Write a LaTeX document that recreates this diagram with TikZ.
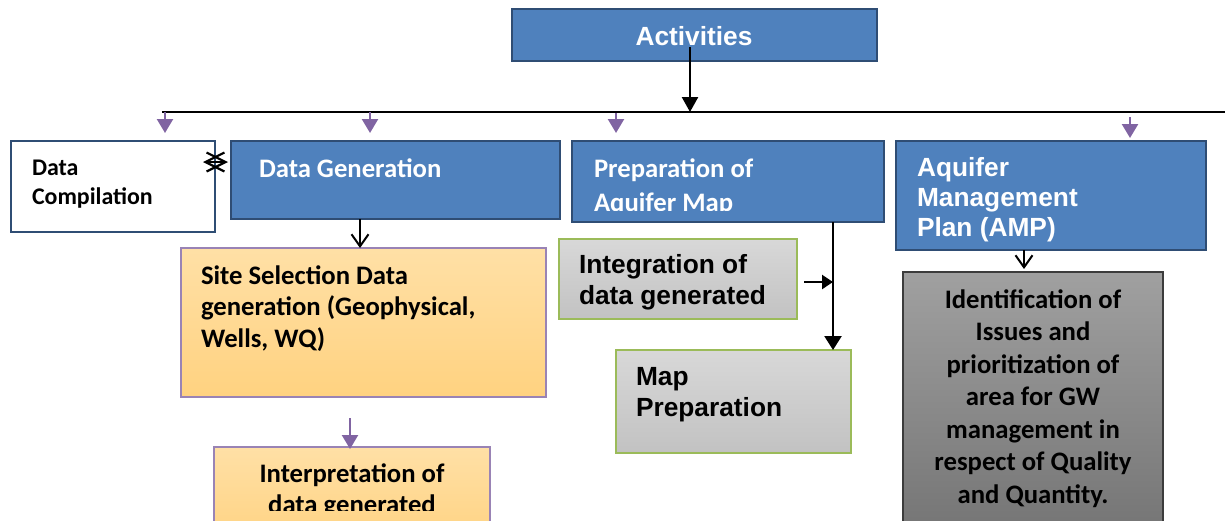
\documentclass[tikz,border=0pt]{standalone}
\usepackage{fontspec}
\setmainfont{Carlito}
\newfontfamily\arl{Liberation Sans}
\usetikzlibrary{arrows.meta}
\definecolor{bfill}{HTML}{4F81BD}
\definecolor{bdraw}{HTML}{2F4D74}
\definecolor{pur}{HTML}{8064A2}
\definecolor{grn}{HTML}{9BBB59}
\newcommand\VL[1]{\vtop{\halign{##\hfil\cr#1\crcr}}}
\newcommand\VC[1]{\vtop{\halign{\hfil##\hfil\cr#1\crcr}}}
\begin{document}
\begin{tikzpicture}[x=1pt,y=-1pt,
  box/.style={rectangle, inner sep=0pt, outer sep=0pt, anchor=north west},
  bluebox/.style={box, fill=bfill, draw=bdraw, line width=2.5pt},
  whitebox/.style={box, fill=white, draw=bdraw, line width=2.5pt},
  orangebox/.style={box, top color={rgb,255:red,255;green,224;blue,166}, bottom color={rgb,255:red,255;green,210;blue,128}, draw=pur!80, line width=1.2pt},
  graybox/.style={box, top color={rgb,255:red,216;green,216;blue,216}, bottom color={rgb,255:red,194;green,194;blue,194}, draw=grn, line width=1.6pt},
  darkbox/.style={box, top color={rgb,255:red,160;green,160;blue,160}, bottom color={rgb,255:red,112;green,112;blue,112}, draw={rgb,255:red,60;green,60;blue,60}, line width=1.2pt},
  txt/.style={inner sep=0pt, outer sep=0pt, anchor=base west},
  ctxt/.style={inner sep=0pt, outer sep=0pt, anchor=base},
  cal/.style={font=\bfseries\fontsize{26.7}{31}\selectfont},
  arf/.style={font=\arl\bfseries\fontsize{26.3}{30}\selectfont},
  purarr/.style={draw=pur, line width=2.4pt, -{Triangle[length=14pt,width=16pt]}},
  blkarr/.style={draw=black, line width=2.4pt, -{Triangle[length=15pt,width=16pt]}},
  openarr/.style={draw=black, line width=2pt, -{Straight Barb[length=12pt,width=17pt]}},
]
\useasboundingbox (0,0) rectangle (1225,520);

% boxes
\node[bluebox, minimum width=365pt, minimum height=52pt] (act) at (512,9) {};
\node[whitebox, minimum width=204pt, minimum height=91pt] (dc) at (11,141) {};
\node[bluebox, minimum width=329pt, minimum height=78pt] (dg) at (231,141) {};
\node[bluebox, minimum width=312pt, minimum height=81pt] (prep) at (572,141) {};
\node[bluebox, minimum width=310pt, minimum height=109pt] (amp) at (896,141) {};
\node[orangebox, minimum width=365pt, minimum height=149pt] (site) at (181,248) {};
\node[orangebox, minimum width=276pt, minimum height=100pt] (interp) at (214,447) {};
\node[graybox, minimum width=238pt, minimum height=80pt] (integ) at (559,239) {};
\node[graybox, minimum width=235pt, minimum height=103pt] (mapp) at (616,350) {};
\node[darkbox, minimum width=260pt, minimum height=290pt] (ident) at (903,272) {};

% texts
\node[ctxt, arf, text=white] (actt) at (694,45) {Activities};
\node[txt, font=\bfseries\fontsize{23.9}{29}\selectfont] (dct) at (32,175) {\baselineskip=29pt\VL{Data\cr Compilation}};
\node[txt, cal, text=white] (dgt) at (259,177) {Data Generation};
\begin{scope}
\clip (573,142) rectangle (883,210);
\node[txt, cal, text=white] (prept) at (594,177) {\baselineskip=34pt\VL{Preparation of\cr Aquifer Map}};
\end{scope}
\node[txt, arf, text=white] (ampt) at (917,176) {\baselineskip=30pt\VL{Aquifer\cr Management\cr Plan (AMP)}};
\node[txt, cal] (sitet) at (201,284) {\baselineskip=31.5pt\VL{Site Selection Data\cr generation (Geophysical,\cr Wells, WQ)}};
\begin{scope}
\clip (214,447) rectangle (490,510);
\node[ctxt, cal] (interpt) at (352,482) {\baselineskip=31pt\VC{Interpretation of\cr data generated}};
\end{scope}
\node[txt, arf] (integt) at (579,273) {\baselineskip=31pt\VL{Integration of\cr data generated}};
\node[txt, arf] (mapt) at (636,385) {\baselineskip=31pt\VL{Map\cr Preparation}};
\node[ctxt, cal] (identt) at (1033,308) {\baselineskip=32.5pt\VC{Identification of\cr Issues and\cr prioritization of\cr area for GW\cr management in\cr respect of Quality\cr and Quantity.}};

% bus and connectors
\coordinate (busL) at (162,112);
\coordinate (busR) at (1225,112);
\draw[line width=2.4pt] (busL) -- (busR);
\coordinate (actarr) at (690,47);
\draw[blkarr] (actarr) -- (actarr |- busL);

\coordinate (p1) at (165,112);
\coordinate (p2) at (370,112);
\coordinate (p3) at (616,113);
\coordinate (p4) at (1130,117);
\draw[purarr] (p1) -- ([yshift=8pt]p1 |- dc.north);
\draw[purarr] (p2) -- ([yshift=8pt]p2 |- dg.north);
\draw[purarr] (p3) -- ([yshift=8pt]p3 |- prep.north);
\draw[purarr] (p4) -- ([yshift=3pt]p4 |- amp.north);

% Data Compilation <-> Data Generation marker
\coordinate (dcm1) at (203,162);
\coordinate (dcm2) at (228,162);
\draw[line width=2.2pt, {Straight Barb[length=19pt,width=19pt]}-{Straight Barb[length=19pt,width=19pt]}] (dcm1) -- (dcm2);

% Data Generation -> Site Selection
\coordinate (dga) at (360,219);
\draw[openarr] (dga) -- (dga |- site.north);

% Site -> Interpretation
\coordinate (sia) at (350,418);
\draw[purarr] (sia) -- ([yshift=-2pt]sia |- interp.north);

% Preparation -> Map Preparation
\coordinate (pra) at (833,222);
\draw[draw=black, line width=2.4pt, -{Triangle[length=14pt,width=17pt]}] (pra) -- (pra |- mapp.north);

% Integration -> line
\coordinate (ina) at (804,282);
\draw[draw=black, line width=2.4pt, -{Triangle[length=11pt,width=14pt]}] (ina) -- (ina -| pra) ;

% AMP -> Identification
\coordinate (ama) at (1024,250);
\draw[openarr] (ama) -- ([yshift=3pt]ama |- ident.north);
\end{tikzpicture}
\end{document}
